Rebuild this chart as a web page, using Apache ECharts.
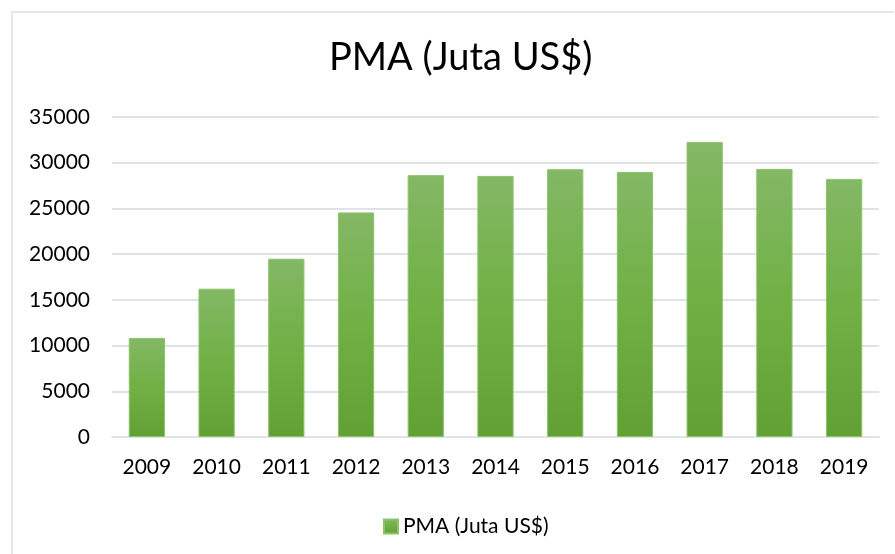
<!DOCTYPE html>
<html>
<head>
<meta charset="utf-8">
<script src="https://cdn.jsdelivr.net/npm/echarts@6/dist/echarts.min.js"></script>
<style>
  html, body { margin: 0; padding: 0; background: #fff; }
  #chart { width: 895px; height: 554px; position: relative; }
  #frame {
    position: absolute; left: 11px; top: 11px; right: 1px; bottom: 0;
    border-top: 2px solid #e3e7ec; border-left: 2px solid #e3e7ec;
    pointer-events: none;
  }
</style>
</head>
<body>
<div id="chart"></div>
<div id="frame"></div>
<script>
  // data
  const years = ['2009', '2010', '2011', '2012', '2013', '2014', '2015', '2016', '2017', '2018', '2019']
  const pmaValues = [10840, 16220, 19500, 24560, 28640, 28560, 29290, 28990, 32270, 29320, 28230]
  const seriesName = 'PMA (Juta US$)'

  const font = 'Lato, "Open Sans", sans-serif'

  const chart = echarts.init(document.getElementById('chart'))

  const option = {
    animation: false,
    title: {
      text: seriesName,
      left: 324,
      top: 34,
      textStyle: {
        fontFamily: font,
        fontSize: 38,
        fontWeight: 'normal',
        color: '#000'
      }
    },
    legend: {
      data: [seriesName],
      left: 378,
      top: 511,
      itemWidth: 14,
      itemHeight: 14,
      itemGap: 6,
      icon: 'rect',
      textStyle: {
        fontFamily: font,
        fontSize: 21,
        color: '#000'
      }
    },
    grid: {
      left: 112,
      right: 16,
      top: 117,
      bottom: 117
    },
    xAxis: {
      type: 'category',
      data: years,
      axisLine: { lineStyle: { color: '#dfe3e8', width: 2 } },
      axisTick: { show: false },
      axisLabel: {
        fontFamily: font,
        fontSize: 21,
        color: '#000',
        margin: 20
      }
    },
    yAxis: {
      type: 'value',
      min: 0,
      max: 35000,
      interval: 5000,
      axisLine: { show: false },
      axisTick: { show: false },
      splitLine: { lineStyle: { color: '#dfe3e8', width: 2 } },
      axisLabel: {
        fontFamily: font,
        fontSize: 21,
        color: '#000',
        margin: 22,
        formatter: (v) => String(v)
      }
    },
    series: [
      {
        name: seriesName,
        type: 'bar',
        data: pmaValues,
        barWidth: '52%',
        itemStyle: {
          color: new echarts.graphic.LinearGradient(0, 0, 0, 1, [
            { offset: 0, color: '#84b865' },
            { offset: 0.5, color: '#70b044' },
            { offset: 1, color: '#62a034' }
          ]),
          borderColor: '#8cc46c',
          borderWidth: 1
        }
      }
    ]
  }

  chart.setOption(option)
</script>
</body>
</html>
